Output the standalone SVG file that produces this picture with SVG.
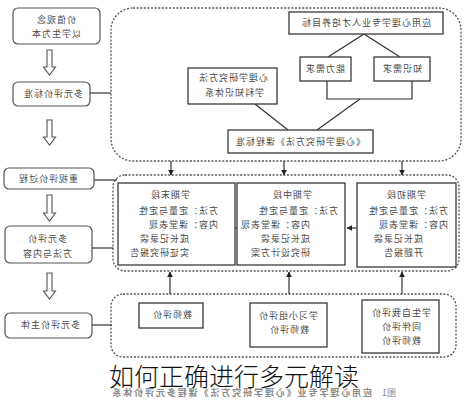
<svg xmlns="http://www.w3.org/2000/svg" width="469" height="400" viewBox="0 0 469 400">
<defs>
<style>
.t{font-family:"Noto Sans CJK SC","Noto Sans",sans-serif;font-size:9px;fill:#4a4a4a;letter-spacing:1px}
.c{text-anchor:middle}
.e{text-anchor:end}
.m{transform-box:fill-box;transform-origin:center;transform:scaleX(-1)}
.box{fill:#fff;stroke:#3a3a3a;stroke-width:1.3}
.rb{fill:#fff;stroke:#555;stroke-width:1.2}
.dash{fill:none;stroke:#555;stroke-width:1.3;stroke-dasharray:2 1.6}
.ln{fill:none;stroke:#333;stroke-width:1.2}
.ha{fill:#fff;stroke:#555;stroke-width:1.1}
</style>
<marker id="ah" viewBox="0 0 10 10" refX="9" refY="5" markerWidth="5" markerHeight="5" orient="auto">
<path d="M0,0 L10,5 L0,10 z" fill="#222"/>
</marker>
</defs>
<rect width="469" height="400" fill="#fff"/>

<!-- containers -->
<g id="containers">
<rect class="dash" x="111" y="8" width="350" height="153" rx="22"/>
<rect class="dash" x="113" y="175" width="346" height="96" rx="12"/>
<rect class="dash" x="111" y="294" width="345" height="63" rx="12"/>
</g>

<!-- connectors -->
<g id="connectors">
<line class="ln" x1="90" y1="93" x2="111" y2="93"/>
<line class="ln" x1="94" y1="180" x2="117" y2="180"/>
<line class="ln" x1="92" y1="248" x2="113" y2="248"/>
<line class="ln" x1="92" y1="325" x2="112" y2="325"/>
<path class="ha" d="M47,50 h5 v17 h3.5 l-6,8 l-6,-8 h3.5 z"/>
<path class="ha" d="M47,120 h5 v17 h3.5 l-6,8 l-6,-8 h3.5 z"/>
<path class="ha" d="M47,195 h5 v18 h3.5 l-6,8 l-6,-8 h3.5 z"/>
<path class="ha" d="M47,273 h5 v18 h3.5 l-6,8 l-6,-8 h3.5 z"/>
<polyline class="ln" points="328,57 364,34 400,57"/>
<polyline class="ln" points="327,81 327,99 412,99 412,81"/>
<line class="ln" x1="360" y1="99" x2="317" y2="130"/>
<line class="ln" x1="255" y1="104" x2="288" y2="130"/>
<line class="ln" x1="171" y1="161" x2="171" y2="175" marker-end="url(#ah)"/>
<line class="ln" x1="284" y1="161" x2="284" y2="175" marker-end="url(#ah)"/>
<line class="ln" x1="402" y1="161" x2="402" y2="175" marker-end="url(#ah)"/>
<line class="ln" x1="357" y1="228" x2="347" y2="228" marker-end="url(#ah)"/>
<line class="ln" x1="237" y1="228" x2="227" y2="228" marker-end="url(#ah)"/>
<line class="ln" x1="170" y1="294" x2="170" y2="272" marker-end="url(#ah)"/>
<line class="ln" x1="289" y1="294" x2="289" y2="272" marker-end="url(#ah)"/>
<line class="ln" x1="402" y1="294" x2="402" y2="272" marker-end="url(#ah)"/>
</g>

<!-- left column -->
<g id="n-values">
<rect class="rb" x="13" y="8" width="87" height="36" rx="5"/>
<text class="t c m" x="56" y="23">价值观念</text>
<text class="t c m" x="56" y="37">以学生为本</text>
</g>
<g id="n-standard">
<rect class="rb" x="13" y="82" width="77" height="24" rx="5"/>
<text class="t c m" x="53" y="97">多元评价标准</text>
</g>
<g id="n-process">
<rect class="rb" x="4" y="168" width="90" height="21" rx="5"/>
<text class="t c m" x="48" y="182">重视评价过程</text>
</g>
<g id="n-method">
<rect class="rb" x="5" y="226" width="87" height="37" rx="5"/>
<text class="t c m" x="47" y="242">多元评价</text>
<text class="t c m" x="47" y="257">方法与内容</text>
</g>
<g id="n-subject">
<rect class="rb" x="5" y="313" width="87" height="25" rx="5"/>
<text class="t c m" x="50" y="328">多元评价主体</text>
</g>

<!-- top container nodes -->
<g id="n-goal">
<rect class="box" x="289" y="12" width="154" height="22"/>
<text class="t c m" x="366" y="26">应用心理学专业人才培养目标</text>
</g>
<g id="n-ability">
<rect class="box" x="300" y="57" width="51" height="24"/>
<text class="t c m" x="325" y="72">能力需求</text>
</g>
<g id="n-knowledge">
<rect class="box" x="374" y="57" width="56" height="24"/>
<text class="t c m" x="402" y="72">知识需求</text>
</g>
<g id="n-system">
<rect class="box" x="188" y="68" width="89" height="36"/>
<text class="t c m" x="233" y="81">心理学研究方法</text>
<text class="t c m" x="234" y="96">学科知识体系</text>
</g>
<g id="n-course">
<rect class="box" x="228" y="130" width="145" height="23"/>
<text class="t c m" x="300" y="145">《心理学研究方法》课程标准</text>
</g>

<!-- stage boxes -->
<g id="n-late">
<rect class="box" x="118" y="183" width="117" height="82"/>
<text class="t e m" x="190" y="198">学期末段</text>
<text class="t e m" x="218" y="214">方法：定量与定性</text>
<text class="t e m" x="218" y="228">内容：课堂表现</text>
<text class="t e m" x="189" y="242">成长记录袋</text>
<text class="t e m" x="189" y="256">实证研究报告</text>
</g>
<g id="n-mid">
<rect class="box" x="237" y="183" width="108" height="82"/>
<text class="t e m" x="312" y="198">学期中段</text>
<text class="t e m" x="338" y="214">方法：定量与定性</text>
<text class="t e m" x="310" y="228">内容：课堂表现</text>
<text class="t e m" x="310" y="242">成长记录袋</text>
<text class="t e m" x="310" y="256">研究设计方案</text>
</g>
<g id="n-early">
<rect class="box" x="357" y="183" width="99" height="84"/>
<text class="t e m" x="426" y="198">学期初段</text>
<text class="t e m" x="448" y="214">方法：定量与定性</text>
<text class="t e m" x="448" y="228">内容：课堂表现</text>
<text class="t e m" x="423" y="242">成长记录袋</text>
<text class="t e m" x="423" y="256">开题报告</text>
</g>

<!-- bottom nodes -->
<g id="n-teacher">
<rect class="box" x="139" y="303" width="64" height="25"/>
<text class="t c m" x="172" y="318">教师评价</text>
</g>
<g id="n-group">
<rect class="box" x="250" y="303" width="77" height="44"/>
<text class="t c m" x="288" y="319">学习小组评价</text>
<text class="t c m" x="289" y="333">教师评价</text>
</g>
<g id="n-self">
<rect class="box" x="362" y="300" width="77" height="53"/>
<text class="t c m" x="401" y="316">学生自我评价</text>
<text class="t c m" x="401" y="330">同伴评价</text>
<text class="t c m" x="401" y="344">教师评价</text>
</g>

<!-- caption -->
<g id="caption">
<text class="m" x="372" y="396" text-anchor="end" font-family="Noto Sans CJK SC, sans-serif" font-size="9" font-weight="bold" fill="#8a8a8a" letter-spacing="1.9">应用心理学专业《心理学研究方法》课程多元评价体系</text>
<text class="m" x="396" y="396" text-anchor="end" font-family="Noto Sans CJK SC, sans-serif" font-size="9" fill="#8a8a8a">图1</text>
<text x="234" y="386" text-anchor="middle" font-family="Noto Sans CJK SC, sans-serif" font-size="25" font-weight="300" fill="#111">如何正确进行多元解读</text>
</g>
</svg>
